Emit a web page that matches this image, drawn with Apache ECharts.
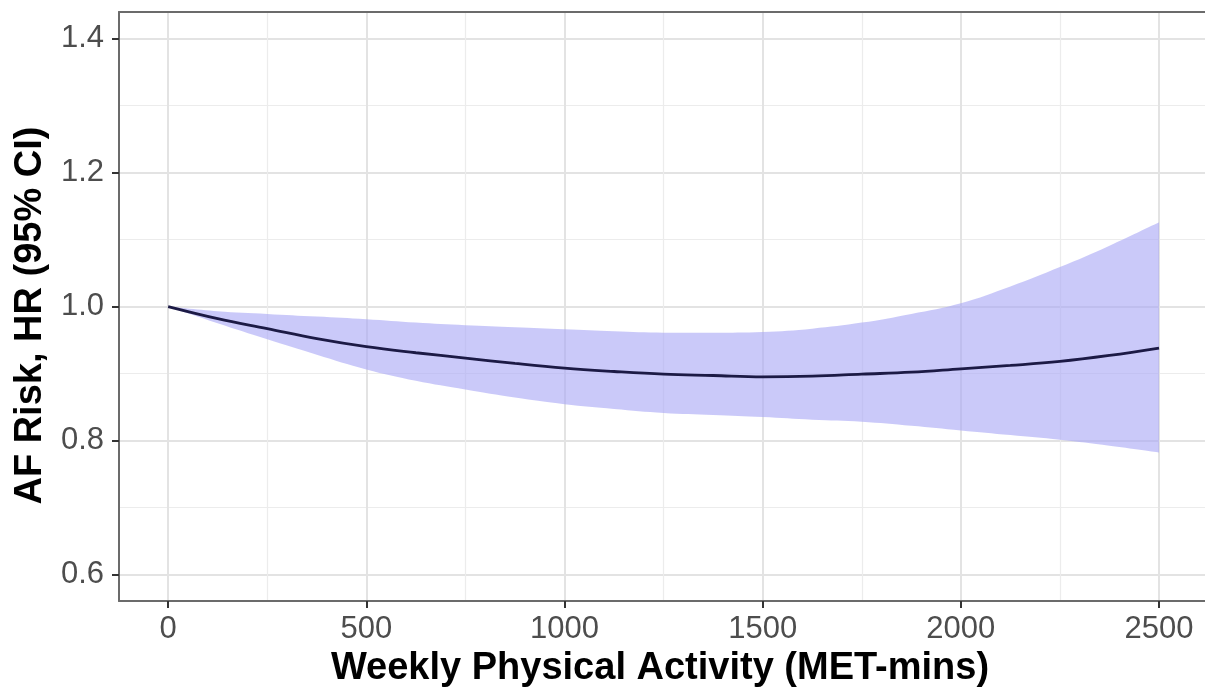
<!DOCTYPE html>
<html>
<head>
<meta charset="utf-8">
<script src="https://cdn.jsdelivr.net/npm/echarts@6/dist/echarts.min.js"></script>
<style>html,body{margin:0;padding:0;background:#fff;}#chart{width:1205px;height:693px;}</style>
</head>
<body>
<div id="chart"></div>
<script>
// Weekly physical activity (MET-mins)
const xValues = [0, 125, 250, 375, 500, 625, 750, 875, 1000, 1125, 1250, 1375, 1500, 1625, 1750, 1875, 2000, 2125, 2250, 2375, 2500];
// Hazard ratio estimate
const hrValues = [1.000, 0.982, 0.967, 0.952, 0.940, 0.931, 0.923, 0.915, 0.908, 0.903, 0.899, 0.897, 0.895, 0.896, 0.899, 0.902, 0.907, 0.912, 0.918, 0.927, 0.938];
// 95% CI bounds
const upperValues = [1.000, 0.993, 0.989, 0.985, 0.981, 0.976, 0.972, 0.969, 0.966, 0.963, 0.961, 0.961, 0.962, 0.967, 0.976, 0.989, 1.005, 1.030, 1.059, 1.091, 1.126];
const lowerValues = [1.000, 0.975, 0.951, 0.928, 0.906, 0.889, 0.876, 0.864, 0.854, 0.847, 0.841, 0.838, 0.835, 0.831, 0.828, 0.822, 0.815, 0.808, 0.801, 0.792, 0.782];
// ticks
const xTicks = [0, 500, 1000, 1500, 2000, 2500];
const xMinorTicks = [250, 750, 1250, 1750, 2250];
const yTicks = [0.6, 0.8, 1.0, 1.2, 1.4];
const yMinorTicks = [0.7, 0.9, 1.1, 1.3];

const font = 'Liberation Sans, Arial, Helvetica, sans-serif';
const chart = echarts.init(document.getElementById('chart'));

// data stored as [y, x] so that stacking happens on the y dimension
const lowerData = xValues.map((x, i) => [lowerValues[i], x]);
const bandData = xValues.map((x, i) => [+(upperValues[i] - lowerValues[i]).toFixed(4), x]);
const lineData = xValues.map((x, i) => [x, hrValues[i]]);

const borderColor = '#6b6b6b';

chart.setOption({
  animation: false,
  backgroundColor: '#ffffff',
  grid: { left: 119, right: 0, top: 12, bottom: 89, containLabel: false },
  xAxis: [
    {
      type: 'value', min: -124, max: 2616, position: 'bottom',
      name: 'Weekly Physical Activity (MET-mins)', nameLocation: 'middle', nameGap: 44,
      nameTextStyle: { fontFamily: font, fontSize: 38, fontWeight: 'bold', color: '#000', padding: [0, 4, 0, 0] },
      axisLine: { show: true, onZero: false, lineStyle: { color: borderColor, width: 2 } },
      axisTick: { show: true, customValues: xTicks, length: 7, lineStyle: { color: '#333', width: 2 } },
      axisLabel: { customValues: xTicks, fontFamily: font, fontSize: 31, color: '#4d4d4d', margin: 13,
        formatter: v => String(v) },
      splitLine: { show: true, lineStyle: { color: '#e3e3e3', width: 2 } }
    },
    {
      type: 'value', min: -124, max: 2616, position: 'top',
      axisLine: { show: true, onZero: false, lineStyle: { color: borderColor, width: 2 } },
      axisTick: { show: false, customValues: xMinorTicks },
      axisLabel: { show: false, customValues: xMinorTicks },
      splitLine: { show: true, lineStyle: { color: '#ececec', width: 1.2 } }
    }
  ],
  yAxis: [
    {
      type: 'value', min: 0.56, max: 1.44, position: 'left',
      name: 'AF Risk, HR (95% CI)', nameLocation: 'middle', nameGap: 66, nameRotate: 90,
      nameTextStyle: { fontFamily: font, fontSize: 38, fontWeight: 'bold', color: '#000', padding: [0, 18, 0, 0] },
      axisLine: { show: true, onZero: false, lineStyle: { color: borderColor, width: 2 } },
      axisTick: { show: true, customValues: yTicks, length: 7, lineStyle: { color: '#333', width: 2 } },
      axisLabel: { customValues: yTicks, fontFamily: font, fontSize: 31, color: '#4d4d4d', margin: 15,
        formatter: v => v.toFixed(1) },
      splitLine: { show: true, lineStyle: { color: '#e3e3e3', width: 2 } }
    },
    {
      type: 'value', min: 0.56, max: 1.44, position: 'right',
      axisLine: { show: false },
      axisTick: { show: false, customValues: yMinorTicks },
      axisLabel: { show: false, customValues: yMinorTicks },
      splitLine: { show: true, lineStyle: { color: '#ececec', width: 1.2 } }
    }
  ],
  series: [
    {
      type: 'line', name: 'lower', data: lowerData, encode: { x: 1, y: 0 }, stack: 'ci', smooth: 0.4,
      symbol: 'none', lineStyle: { opacity: 0 }, areaStyle: { opacity: 0 }, z: 2
    },
    {
      type: 'line', name: 'band', data: bandData, encode: { x: 1, y: 0 }, stack: 'ci', smooth: 0.4,
      symbol: 'none', lineStyle: { opacity: 0 }, areaStyle: { color: 'rgba(170,168,245,0.62)', opacity: 1 }, z: 2
    },
    {
      type: 'line', name: 'HR', data: lineData, smooth: 0.4,
      symbol: 'none', lineStyle: { color: '#1c1a45', width: 2.8 }, z: 3
    }
  ]
});
</script>
</body>
</html>
